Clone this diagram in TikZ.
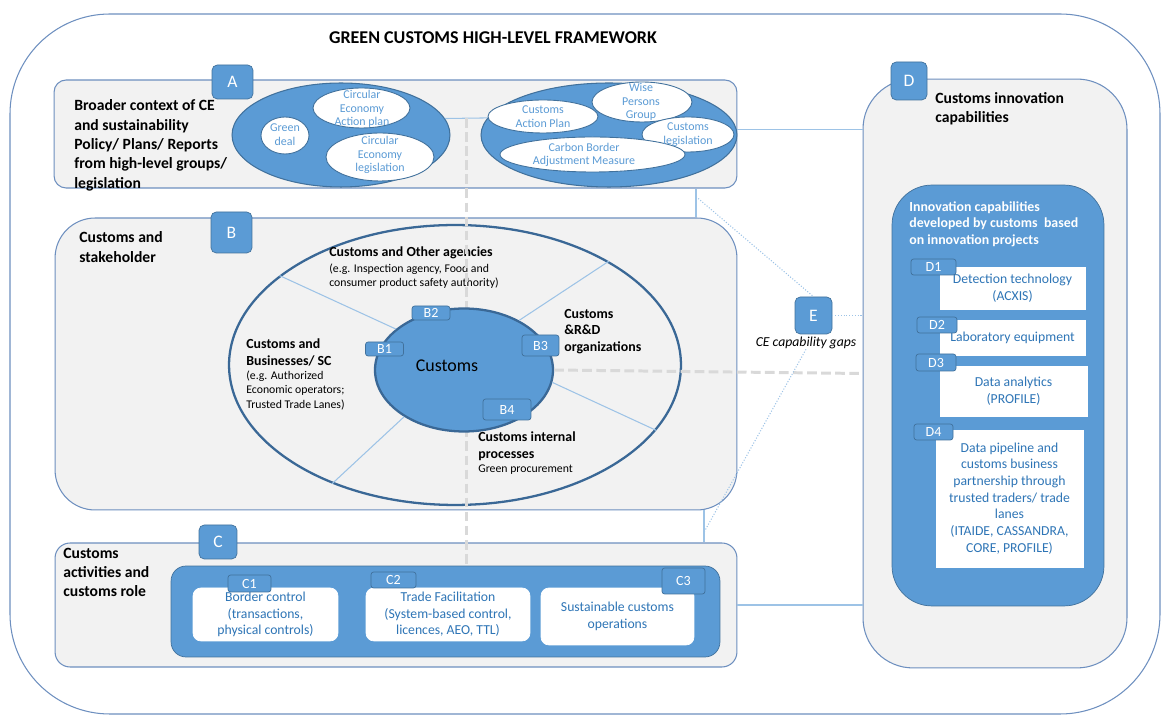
\documentclass[tikz,border=0pt]{standalone}
\usepackage{fontspec}
\setmainfont{Carlito}
\usetikzlibrary{shapes.geometric}

\definecolor{cblue}{HTML}{5B9BD5}
\definecolor{tagline}{HTML}{41719C}
\definecolor{panelgray}{HTML}{F2F2F2}
\definecolor{frameblue}{HTML}{6D8FBF}
\definecolor{ringblue}{HTML}{3A6896}
\definecolor{tblue}{HTML}{2E75B6}
\definecolor{linkblue}{HTML}{9DC3E6}
\definecolor{gapgray}{HTML}{D9D9D9}

\newcommand{\fsz}[2]{\fontsize{#1}{#2}\selectfont}

\begin{document}
\begin{tikzpicture}[x=0.02cm,y=-0.02cm,
        frame/.style={draw=frameblue,line width=0.6pt,rounded corners=2cm},
        panel/.style={draw=frameblue,fill=panelgray,line width=0.6pt,inner sep=0pt},
        tag/.style={draw=tagline,fill=cblue,rounded corners=3pt,text=white,inner sep=0pt,font=\fsz{10}{12}},
        subtag/.style={tag,rounded corners=1.5pt,font=\fsz{8}{9}},
        blob/.style={ellipse,draw=tagline,fill=cblue,line width=0.6pt,inner sep=0pt},
        wblob/.style={ellipse,draw=tagline,fill=white,line width=0.5pt,inner sep=0pt},
        etext/.style={text=cblue,align=center,inner sep=0pt,font=\fsz{6.8}{7.8}},
        head/.style={anchor=west,align=left,inner sep=0pt,font=\bfseries\fsz{8.9}{11}},
        bhead/.style={anchor=west,align=left,inner sep=0pt,font=\bfseries\fsz{7.9}{9.5}},
        bsmall/.style={anchor=west,align=left,inner sep=0pt,font=\fsz{6.7}{8.1}},
        wbox/.style={fill=white,draw=white,inner sep=0pt,text=tblue,align=center,font=\fsz{7.8}{9.4}},
        link/.style={draw=linkblue,line width=0.6pt},
        dotlink/.style={link,densely dotted},
        gapline/.style={draw=gapgray,line width=1.7pt,dash pattern=on 5.5pt off 2.5pt}]

    \useasboundingbox (0,0) rectangle (1161,715);

    % outer frame and title
    \draw[frame] (10,14) rectangle (1160,714);
    \node[font=\bfseries\fsz{10.25}{12}] (title) at (493,38) {GREEN CUSTOMS HIGH-LEVEL FRAMEWORK};

    % panels
    \node[panel,rounded corners=0.24cm,minimum width=13.66cm,minimum height=2.16cm] (A) at (395.5,134) {};
    \node[panel,rounded corners=0.8cm,minimum width=13.64cm,minimum height=5.84cm] (B) at (396,364) {};
    \node[panel,rounded corners=0.3cm,minimum width=13.64cm,minimum height=2.48cm] (C) at (396,605) {};
    \node[panel,rounded corners=1cm,minimum width=5.28cm,minimum height=11.78cm] (D) at (995,373.5) {};

    \node[tag,minimum width=0.82cm,minimum height=0.68cm] (Atag) at (232.5,82) {A};
    \node[tag,minimum width=0.82cm,minimum height=0.82cm] (Btag) at (231.5,232.5) {B};
    \node[tag,minimum width=0.76cm,minimum height=0.68cm] (Ctag) at (218,542) {C};
    \node[tag,minimum width=0.72cm,minimum height=0.76cm] (Dtag) at (909,81) {D};

    \node[head] (Atext) at (74,145.5) {Broader context of CE\\and sustainability\\Policy/ Plans/ Reports\\from high-level groups/\\legislation};
    \node[head] (Btext) at (79,247) {Customs and\\stakeholder};
    \node[head] (Ctext) at (63,572.5) {Customs\\activities and\\customs role};
    \node[head] (Dtext) at (935,108.5) {Customs innovation\\capabilities};

    % A: policy ellipses
    \node[blob,minimum width=4.36cm,minimum height=2.08cm] (A1) at (341,135) {};
    \node[wblob,minimum width=1.94cm,minimum height=0.8cm] (ceap) at (361.5,108) {};
    \node[wblob,minimum width=0.96cm,minimum height=0.74cm] (gdeal) at (285,135.5) {};
    \node[wblob,minimum width=2.16cm,minimum height=0.96cm] (celeg) at (380,157) {};
    \node[etext] (ceap-t) at (362,109) {Circular\\Economy\\Action plan};
    \node[etext] (gdeal-t) at (285,135) {Green\\deal};
    \node[etext] (celeg-t) at (380,155) {Circular\\Economy\\legislation};

    \node[blob,minimum width=5.12cm,minimum height=2.08cm] (A2) at (609,135) {};
    \node[wblob,minimum width=2.2cm,minimum height=0.66cm] (cap) at (543,116.5) {};
    \node[wblob,minimum width=2cm,minimum height=0.8cm] (wpg) at (642,102) {};
    \node[wblob,minimum width=1.84cm,minimum height=0.7cm] (cleg) at (688,134.5) {};
    \node[wblob,minimum width=3.7cm,minimum height=0.7cm] (cbam) at (592.5,154.5) {};
    \node[etext] (cap-t) at (543,116.5) {Customs\\Action Plan};
    \node[etext] (wpg-t) at (641,102) {Wise\\Persons\\Group};
    \node[etext] (cleg-t) at (688,135) {Customs\\legislation};
    \node[etext] (cbam-t) at (584,155) {Carbon Border\\Adjustment Measure};

    \draw[link] (A1.9.4) -- node[coordinate,midway] (amid) {} (A2.172);

    % C: customs activities
    \node[draw=tagline,fill=cblue,rounded corners=0.3cm,inner sep=0pt,minimum width=10.98cm,minimum height=1.82cm] (Cin) at (445.5,611.5) {};
    \node[wbox,rounded corners=0.16cm,minimum width=2.9cm,minimum height=1.06cm] (C1box) at (265.5,614.5) {Border control\\(transactions,\\physical controls)};
    \node[wbox,rounded corners=0.16cm,minimum width=3.28cm,minimum height=1.06cm] (C2box) at (448,614.5) {Trade Facilitation\\(System-based control,\\licences, AEO, TTL)};
    \node[wbox,rounded corners=0.16cm,minimum width=3.06cm,minimum height=1.14cm] (C3box) at (617.5,616.5) {Sustainable customs\\operations};
    \node[subtag,minimum width=0.86cm,minimum height=0.34cm] (C1) at (249.5,583.5) {C1};
    \node[subtag,minimum width=0.9cm,minimum height=0.32cm] (C2) at (393.5,580) {C2};
    \node[subtag,minimum width=0.86cm,minimum height=0.52cm] (C3) at (683.5,581) {C3};

    % B: stakeholders
    \node[ellipse,draw=ringblue,line width=1.3pt,inner sep=0pt,minimum width=9.04cm,minimum height=5.6cm] (Bell) at (455,365) {};
    \node[bhead] (agen) at (329,253) {Customs and Other agencies};
    \node[bsmall] (agen-eg) at (329,276) {(e.g. Inspection agency, Food and\\consumer product safety authority)};
    \node[bhead] (biz) at (246,352.5) {Customs and\\Businesses/ SC};
    \node[bsmall] (biz-eg) at (246,390.5) {(e.g. Authorized\\Economic operators;\\Trusted Trade Lanes)};
    \node[bhead] (rnd) at (564,331.5) {Customs\\\&R\&D\\organizations};
    \node[bhead] (intern) at (478,446.5) {Customs internal\\processes};
    \node[bsmall] (intern-eg) at (478,469.5) {Green procurement};

    \draw[gapline] (amid) -- (amid |- Cin.north);

    \node[blob,draw=ringblue,line width=1.3pt,minimum width=3.56cm,minimum height=2.46cm] (cust) at (464,370) {};
    \node[font=\fsz{10.2}{12},inner sep=0pt] (cust-t) at (447,366) {Customs};
    \draw[link] (Bell.153) -- (cust.149);
    \draw[link] (Bell.34) -- (cust.42);
    \draw[link] (Bell.-18) -- (cust.-8);
    \draw[link] (Bell.224) -- (cust.218);

    \node[subtag,minimum width=0.76cm,minimum height=0.28cm] (B1) at (384.5,349) {B1};
    \node[subtag,minimum width=0.76cm,minimum height=0.28cm] (B2) at (431,313) {B2};
    \node[subtag,minimum width=0.74cm,minimum height=0.42cm] (B3) at (540.5,345.5) {B3};
    \node[subtag,minimum width=0.96cm,minimum height=0.42cm] (B4) at (507,409.5) {B4};

    % D: innovation capabilities
    \node[draw=tagline,fill=cblue,rounded corners=0.8cm,inner sep=0pt,minimum width=4.24cm,minimum height=8.42cm] (Din) at (998,395.5) {};
    \node[anchor=west,align=left,inner sep=0pt,text=white,font=\bfseries\fsz{7.9}{9.5}] (Din-t) at (909,224) {Innovation capabilities\\developed by customs~ based\\on innovation projects};
    \node[wbox,font=\fsz{7.8}{9.5},minimum width=2.9cm,minimum height=0.84cm] (D1box) at (1012.5,288) {Detection technology\\(ACXIS)};
    \node[wbox,font=\fsz{7.8}{9.5},minimum width=2.9cm,minimum height=0.7cm] (D2box) at (1012.5,337.5) {Laboratory equipment};
    \node[wbox,font=\fsz{7.8}{9.5},minimum width=2.94cm,minimum height=1cm] (D3box) at (1013.5,391) {Data analytics\\(PROFILE)};
    \node[wbox,font=\fsz{7.8}{9.5},minimum width=2.94cm,minimum height=2.74cm] (D4box) at (1009.5,498.5) {Data pipeline and\\customs business\\partnership through\\trusted traders/ trade\\lanes\\(ITAIDE, CASSANDRA,\\CORE, PROFILE)};
    \node[subtag,minimum width=0.9cm,minimum height=0.32cm] (D1) at (933.5,267) {D1};
    \node[subtag,minimum width=0.8cm,minimum height=0.32cm] (D2) at (937,325) {D2};
    \node[subtag,minimum width=0.8cm,minimum height=0.34cm] (D3) at (936,362.5) {D3};
    \node[subtag,minimum width=0.78cm,minimum height=0.32cm] (D4) at (933.5,432) {D4};

    % E: gaps
    \node[tag,minimum width=0.74cm,minimum height=0.74cm] (E) at (813.5,315.5) {E};
    \node[font=\itshape\fsz{7.8}{9},inner sep=0pt] (E-t) at (806,343) {CE capability gaps};

    % connectors
    \coordinate (abx) at (696,0);
    \coordinate (bcx) at (704,0);
    \draw[gapline] (cust.east) -- (D.west);
    \draw[link] ([yshift=2.3pt]A.east) -- ([yshift=2.3pt]A.east -| D.west);
    \draw[link] (C.east) -- (C.east -| D.west);
    \draw[link] (A.south -| abx) -- node[coordinate,pos=0.28] (ab-m) {} (B.north -| abx);
    \draw[link] (B.south -| bcx) -- node[coordinate,pos=0.68] (bc-m) {} (C.north -| bcx);
    \draw[dotlink] (ab-m) -- (E.north);
    \draw[dotlink] (E-t.south) -- (bc-m);
    \draw[dotlink] (E.east) -- (E.east -| D.west);
\end{tikzpicture}
\end{document}
